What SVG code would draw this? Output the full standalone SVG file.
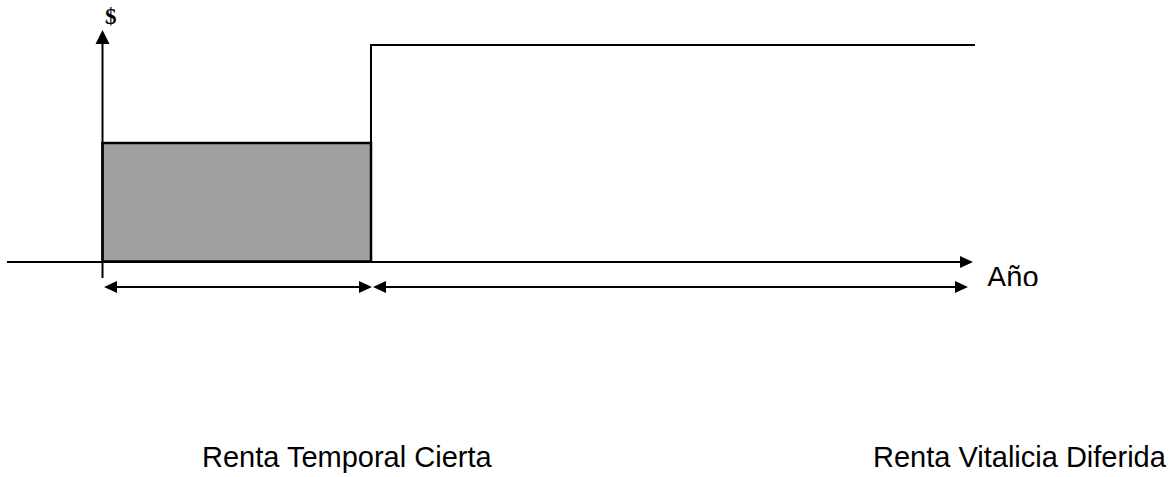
<svg xmlns="http://www.w3.org/2000/svg" width="1172" height="477" viewBox="0 0 1172 477">
<style>
.ln{stroke:#000;stroke-width:2;fill:none}
.lbl{font-family:"Liberation Sans",Arial,sans-serif;font-size:29px;fill:#000}
</style>
<defs>
<clipPath id="anoClip"><rect x="970" y="250" width="120" height="36"/></clipPath>
</defs>
<rect width="1172" height="477" fill="#fff"/>
<g id="bar">
<rect x="102.5" y="143" width="268.5" height="118.5" fill="#a0a0a0" stroke="#000" stroke-width="2.5"/>
</g>
<g id="connectors">
<line class="ln" x1="102.5" y1="278" x2="102.5" y2="42"/>
<polygon points="102.5,30 95.5,44 109.5,44" fill="#000"/>
<line class="ln" x1="7" y1="262" x2="962" y2="262"/>
<polygon points="973,262 960,256 960,268" fill="#000"/>
<polyline class="ln" points="371,261.5 371,45 975,45"/>
<line class="ln" x1="114" y1="287" x2="362" y2="287"/>
<polygon points="104,287 117,281 117,293" fill="#000"/>
<polygon points="372,287 359,281 359,293" fill="#000"/>
<line class="ln" x1="384" y1="287" x2="957" y2="287"/>
<polygon points="373,287 386,281 386,293" fill="#000"/>
<polygon points="968,287 955,281 955,293" fill="#000"/>
</g>
<g id="labels">
<text x="105" y="24" font-family="'Liberation Serif','Times New Roman',serif" font-weight="bold" font-size="23">$</text>
<text class="lbl" x="987" y="287" clip-path="url(#anoClip)">Año</text>
<text class="lbl" x="202" y="467">Renta Temporal Cierta</text>
<text class="lbl" x="873" y="467">Renta Vitalicia Diferida</text>
</g>
</svg>
